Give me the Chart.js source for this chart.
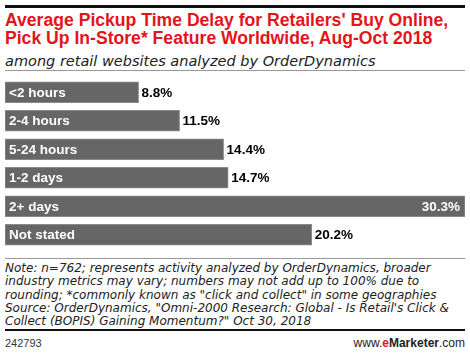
<!DOCTYPE html>
<html><head><meta charset="utf-8">
<script src="https://cdn.jsdelivr.net/npm/chart.js@4.4.0/dist/chart.umd.min.js"></script>
<style>
html,body{margin:0;padding:0;background:#fff;width:470px;height:357px;overflow:hidden;font-family:"Liberation Sans",Arial,sans-serif;}
.abs{position:absolute;}
#topRule{left:5px;top:5px;width:460px;height:3px;background:#111;}
#title{left:5px;top:12px;width:470px;color:#e4141b;font-weight:bold;font-size:17.6px;line-height:17.5px;white-space:nowrap;}
#sub{left:5px;top:53px;font-family:"DejaVu Sans",sans-serif;font-style:italic;font-size:14.5px;color:#222;white-space:nowrap;}
#rule2{left:5px;top:70px;width:460px;height:1px;background:#999;}
#chartBox{left:5px;top:78px;width:460px;height:171px;}
#rule3{left:5px;top:258px;width:460px;height:1px;background:#999;}
#note{left:5px;top:262px;font-family:"DejaVu Sans",sans-serif;font-style:italic;font-size:12px;line-height:13.3px;color:#222;white-space:nowrap;}
#rule4{left:5px;top:329px;width:460px;height:2px;background:#111;}
#id{left:5px;top:337px;font-size:11px;color:#333;}
#brand{right:5px;top:336px;font-size:12px;color:#222;}
</style></head><body>
<div id="topRule" class="abs"></div>
<div id="title" class="abs">Average Pickup Time Delay for Retailers' Buy Online,<br>Pick Up In-Store* Feature Worldwide, Aug-Oct 2018</div>
<div id="sub" class="abs">among retail websites analyzed by OrderDynamics</div>
<div id="rule2" class="abs"></div>
<div id="chartBox" class="abs"><canvas id="c"></canvas></div>
<div id="rule3" class="abs"></div>
<div id="note" class="abs">Note: n=762; represents activity analyzed by OrderDynamics, broader<br>industry metrics may vary; numbers may not add up to 100% due to<br>rounding; *commonly known as "click and collect" in some geographies<br>Source: OrderDynamics, "Omni-2000 Research: Global - Is Retail's Click &amp;<br>Collect (BOPIS) Gaining Momentum?" Oct 30, 2018</div>
<div id="rule4" class="abs"></div>
<div id="id" class="abs">242793</div>
<div id="brand" class="abs">www.<b style="color:#e4141b">e</b><b>Marketer</b>.com</div>
<script>
const categories = ["<2 hours", "2-4 hours", "5-24 hours", "1-2 days", "2+ days", "Not stated"];
const values = [8.8, 11.5, 14.4, 14.7, 30.3, 20.2];
const valueLabels = ["8.8%", "11.5%", "14.4%", "14.7%", "30.3%", "20.2%"];

const labelPlugin = {
  id: 'barLabels',
  afterDatasetsDraw(chart) {
    const ctx = chart.ctx;
    const meta = chart.getDatasetMeta(0);
    ctx.save();
    ctx.font = 'bold 13.5px "Liberation Sans", Arial, sans-serif';
    ctx.textBaseline = 'middle';
    const maxV = Math.max(...values);
    meta.data.forEach((bar, i) => {
      const left = Math.min(bar.x, bar.base);
      const right = Math.max(bar.x, bar.base);
      ctx.fillStyle = '#fff';
      ctx.textAlign = 'left';
      ctx.fillText(categories[i], left + 4, bar.y + 1);
      if (values[i] === maxV) {
        ctx.textAlign = 'right';
        ctx.fillStyle = '#fff';
        ctx.fillText(valueLabels[i], right - 5, bar.y + 1);
      } else {
        ctx.textAlign = 'left';
        ctx.fillStyle = '#000';
        ctx.fillText(valueLabels[i], right + 3, bar.y + 1);
      }
    });
    ctx.restore();
  }
};

new Chart(document.getElementById('c'), {
  type: 'bar',
  data: {
    labels: categories,
    datasets: [{
      data: values,
      backgroundColor: '#666666',
      borderColor: '#8a8a8a',
      borderWidth: 1,
      borderSkipped: false,
      barThickness: 21
    }]
  },
  options: {
    indexAxis: 'y',
    responsive: true,
    maintainAspectRatio: false,
    animation: false,
    layout: { padding: 0 },
    plugins: { legend: { display: false }, tooltip: { enabled: false } },
    scales: {
      x: { display: false, min: 0, max: 30.3, grid: { display: false } },
      y: { display: false, grid: { display: false } }
    }
  },
  plugins: [labelPlugin]
});
</script>
</body></html>
